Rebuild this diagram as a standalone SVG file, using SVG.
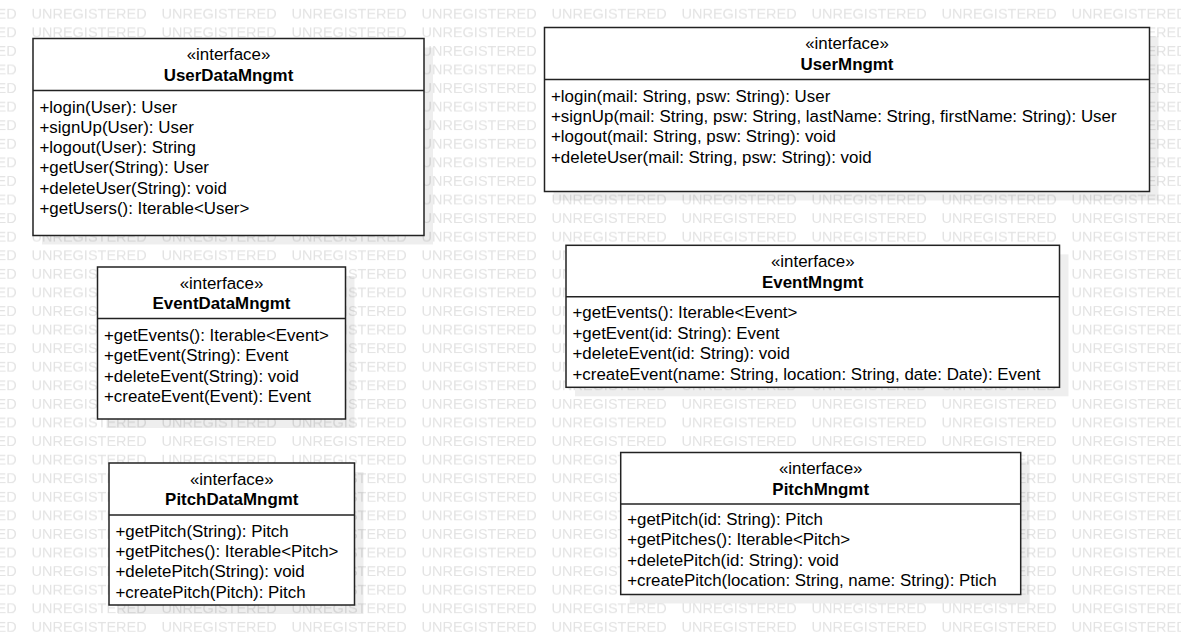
<svg xmlns="http://www.w3.org/2000/svg" width="1181" height="632" viewBox="0 0 1181 632">
  <style>
    .box { fill: #ffffff; stroke: #222222; stroke-width: 1.5; }
    .shadow { fill: #000000; fill-opacity: 0.065; }
    .div { stroke: #222222; stroke-width: 1.5; }
    text { font-family: "Liberation Sans", Arial, sans-serif; font-size: 16.9px; fill: #000000; }
    .st { text-anchor: middle; }
    .nm { text-anchor: middle; font-weight: bold; }
    .wm { font-size: 14.5px; fill: #e3e3e3; }
  </style>
  <defs>
    <pattern id="wmPat" patternUnits="userSpaceOnUse" x="30" y="1" width="130" height="18.58">
      <text class="wm" x="1.5" y="18">UNREGISTERED</text>
    </pattern>
  </defs>
  <rect x="0" y="0" width="1181" height="632" fill="#ffffff"/>
  <rect x="0" y="0" width="1181" height="632" fill="url(#wmPat)"/>

  <g id="connectors"></g>

  <g id="UserDataMngmt">
    <rect class="shadow" x="42" y="47.5" width="391" height="197"/>
    <rect class="box" x="33" y="38.5" width="391" height="197"/>
    <line class="div" x1="33" y1="90.5" x2="424" y2="90.5"/>
    <text class="st" x="228.5" y="60.2">«interface»</text>
    <text class="nm" x="228.5" y="80.9">UserDataMngmt</text>
    <text x="39.5" y="112.5">+login(User): User</text>
    <text x="39.5" y="132.8">+signUp(User): User</text>
    <text x="39.5" y="153.1">+logout(User): String</text>
    <text x="39.5" y="173.4">+getUser(String): User</text>
    <text x="39.5" y="193.7">+deleteUser(String): void</text>
    <text x="39.5" y="214">+getUsers(): Iterable&lt;User&gt;</text>
  </g>

  <g id="UserMngmt">
    <rect class="shadow" x="553.5" y="36.5" width="605" height="164"/>
    <rect class="box" x="544.5" y="27.5" width="605" height="164"/>
    <line class="div" x1="544.5" y1="79.5" x2="1149.5" y2="79.5"/>
    <text class="st" x="847" y="49.2">«interface»</text>
    <text class="nm" x="847" y="69.9">UserMngmt</text>
    <text x="551" y="101.6">+login(mail: String, psw: String): User</text>
    <text x="551" y="121.9">+signUp(mail: String, psw: String, lastName: String, firstName: String): User</text>
    <text x="551" y="142.2">+logout(mail: String, psw: String): void</text>
    <text x="551" y="162.5">+deleteUser(mail: String, psw: String): void</text>
  </g>

  <g id="EventDataMngmt">
    <rect class="shadow" x="106.5" y="276" width="248" height="152"/>
    <rect class="box" x="97.5" y="267" width="248" height="152"/>
    <line class="div" x1="97.5" y1="318.5" x2="345.5" y2="318.5"/>
    <text class="st" x="221.5" y="288.7">«interface»</text>
    <text class="nm" x="221.5" y="309.4">EventDataMngmt</text>
    <text x="104" y="341">+getEvents(): Iterable&lt;Event&gt;</text>
    <text x="104" y="361.3">+getEvent(String): Event</text>
    <text x="104" y="381.6">+deleteEvent(String): void</text>
    <text x="104" y="401.9">+createEvent(Event): Event</text>
  </g>

  <g id="PitchDataMngmt">
    <rect class="shadow" x="118" y="472" width="245.5" height="142"/>
    <rect class="box" x="109" y="463" width="245.5" height="142"/>
    <line class="div" x1="109" y1="515" x2="354.5" y2="515"/>
    <text class="st" x="231.75" y="484.7">«interface»</text>
    <text class="nm" x="231.75" y="505.4">PitchDataMngmt</text>
    <text x="115.5" y="536.8">+getPitch(String): Pitch</text>
    <text x="115.5" y="557.1">+getPitches(): Iterable&lt;Pitch&gt;</text>
    <text x="115.5" y="577.4">+deletePitch(String): void</text>
    <text x="115.5" y="597.7">+createPitch(Pitch): Pitch</text>
  </g>

  <g id="EventMngmt">
    <rect class="shadow" x="575" y="254.3" width="493.5" height="142"/>
    <rect class="box" x="566" y="245.3" width="493.5" height="142"/>
    <line class="div" x1="566" y1="296.8" x2="1059.5" y2="296.8"/>
    <text class="st" x="812.75" y="267">«interface»</text>
    <text class="nm" x="812.75" y="287.7">EventMngmt</text>
    <text x="572.5" y="318">+getEvents(): Iterable&lt;Event&gt;</text>
    <text x="572.5" y="338.5">+getEvent(id: String): Event</text>
    <text x="572.5" y="359">+deleteEvent(id: String): void</text>
    <text x="572.5" y="379.5">+createEvent(name: String, location: String, date: Date): Event</text>
  </g>

  <g id="PitchMngmt">
    <rect class="shadow" x="629.7" y="461.5" width="400" height="142"/>
    <rect class="box" x="620.7" y="452.5" width="400" height="142"/>
    <line class="div" x1="620.7" y1="504" x2="1020.7" y2="504"/>
    <text class="st" x="820.7" y="474.2">«interface»</text>
    <text class="nm" x="820.7" y="494.5">PitchMngmt</text>
    <text x="627.2" y="524.8">+getPitch(id: String): Pitch</text>
    <text x="627.2" y="545.3">+getPitches(): Iterable&lt;Pitch&gt;</text>
    <text x="627.2" y="565.8">+deletePitch(id: String): void</text>
    <text x="627.2" y="586.3">+createPitch(location: String, name: String): Ptich</text>
  </g>
</svg>
